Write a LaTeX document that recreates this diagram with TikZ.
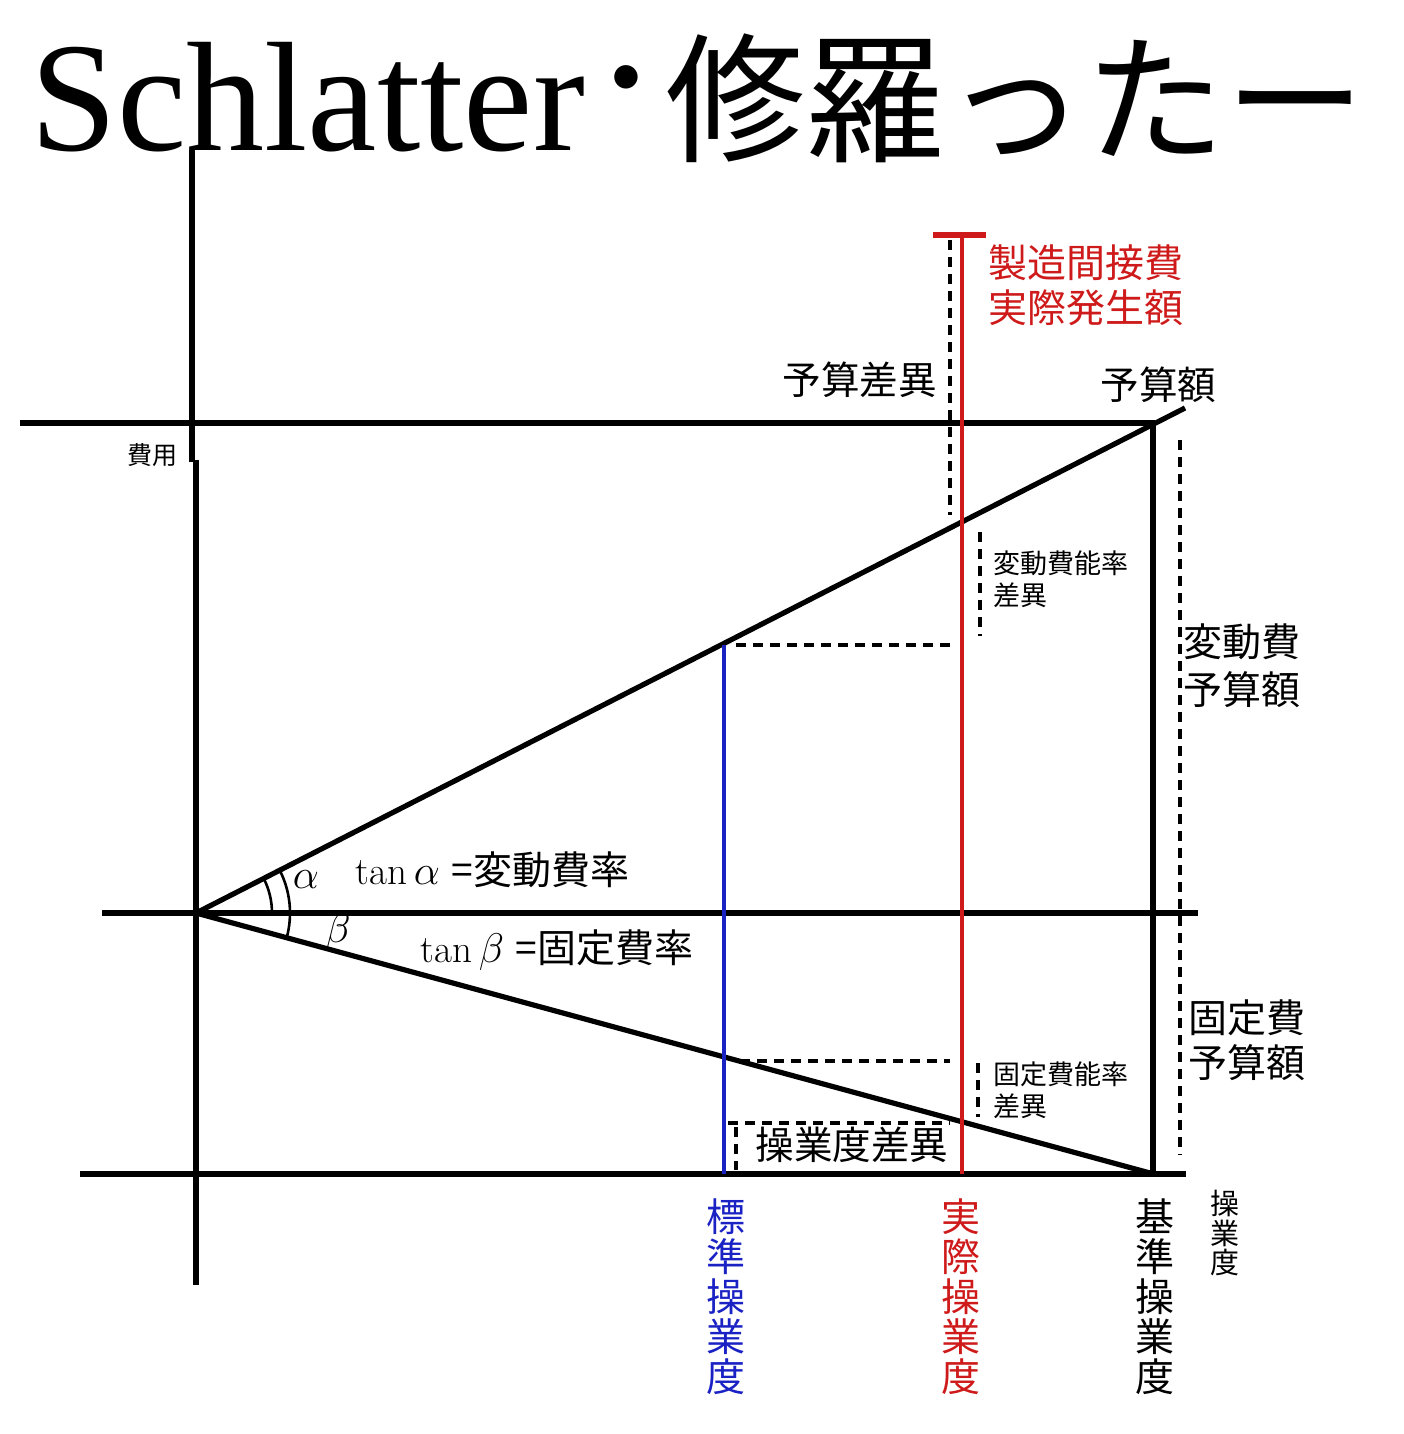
\documentclass[tikz,border=0pt]{standalone}
\usepackage{fontspec}
\newfontfamily\cjk{Noto Sans CJK JP}
\newfontfamily\latinserif{Liberation Serif}
\definecolor{myred}{RGB}{206,26,26}
\definecolor{myblue}{RGB}{26,34,196}
\tikzset{
  axisl/.style={line width=2.6pt, black, line cap=butt},
  redl/.style={line width=2.2pt, myred},
  bluel/.style={line width=2.2pt, myblue},
  dsh/.style={line width=1.8pt, dash pattern=on 5pt off 3.5pt},
  arcl/.style={line width=1.3pt},
  lab/.style={inner sep=0pt, align=left, font=\cjk\fontsize{19.3pt}{23pt}\selectfont},
  smalllab/.style={inner sep=0pt, align=left, font=\cjk\fontsize{13.5pt}{16pt}\selectfont},
  vlab/.style={inner sep=0pt, align=center, anchor=north, font=\cjk\fontsize{19.5pt}{20pt}\selectfont},
}
\begin{document}
\begin{tikzpicture}[x=0.5pt,y=-0.5pt]
\useasboundingbox (0,0) rectangle (1403,1434);
% title
\node[inner sep=0pt, anchor=base west, font=\latinserif\fontsize{78pt}{78pt}\selectfont] (t1) at (30,150) {Schlatter};
\node[inner sep=0pt, font=\cjk\fontsize{70pt}{70pt}\selectfont] (t2) at (626,98) {･};
\node[inner sep=0pt, anchor=west, font=\cjk\fontsize{70pt}{70pt}\selectfont] (t3) at (665,98) {修羅ったー};
% coordinates
\coordinate (O) at (196,913);
\coordinate (VA) at (192,150);
\coordinate (VB) at (192,462);
\coordinate (VC) at (196,460);
\coordinate (VD) at (196,1285);
\coordinate (TL) at (20,423);
\coordinate (TR) at (1155,423);
\coordinate (ML) at (102,913);
\coordinate (MR) at (1198,913);
\coordinate (BL) at (80,1174);
\coordinate (BR) at (1186,1174);
\coordinate (UE) at (1185,408);
\coordinate (LE) at (1150,1173);
\coordinate (RT) at (1153,423);
\coordinate (RB) at (1153,1174);
\coordinate (BT) at (724,645);
\coordinate (BB) at (724,1174);
\coordinate (RdT) at (962,235);
\coordinate (RdB) at (962,1174);
\coordinate (CapL) at (933,235);
\coordinate (CapR) at (986,235);
% axes and lines
\draw[axisl] (VA) -- (VB);
\draw[axisl] (VC) -- (VD);
\draw[axisl] (TL) -- (TR);
\draw[axisl] (ML) -- (MR);
\draw[axisl] (BL) -- (BR);
\draw[axisl] (O) -- (UE);
\draw[axisl] (O) -- (LE);
\draw[axisl] (RT) -- (RB);
% dashed
\coordinate (d1a) at (950,240); \coordinate (d1b) at (950,515);
\coordinate (d2a) at (980,532); \coordinate (d2b) at (980,636);
\coordinate (d3a) at (736,645); \coordinate (d3b) at (950,645);
\coordinate (d4a) at (740,1061); \coordinate (d4b) at (950,1061);
\coordinate (d5a) at (978,1063); \coordinate (d5b) at (978,1117);
\coordinate (d6a) at (728,1123); \coordinate (d6b) at (950,1123);
\coordinate (d7a) at (736,1127); \coordinate (d7b) at (736,1170);
\coordinate (d8a) at (1180,440); \coordinate (d8b) at (1180,1155);
\foreach \a/\b in {d1a/d1b,d2a/d2b,d3a/d3b,d4a/d4b,d5a/d5b,d6a/d6b,d7a/d7b,d8a/d8b}
  \draw[dsh] (\a) -- (\b);
% coloured lines
\draw[bluel] (BT) -- (BB);
\draw[redl] (RdT) -- (RdB);
\draw[redl, line width=2.6pt] (CapL) -- (CapR);
% angle arcs
\draw[arcl] (O) ++(27:38pt) arc[start angle=27, end angle=0, radius=38pt];
\draw[arcl] (O) ++(27:47pt) arc[start angle=27, end angle=-15.2, radius=47pt];
% labels
\node[lab, anchor=west, text=myred, font=\cjk\fontsize{19.5pt}{22.5pt}\selectfont] (seizo) at (988,285) {製造間接費\\実際発生額};
\node[lab, anchor=west] (yosansai) at (782,380) {予算差異};
\node[lab, anchor=west] (yosangaku) at (1100,385) {予算額};
\node[inner sep=0pt, anchor=west, font=\cjk\fontsize{12.5pt}{14pt}\selectfont] (hiyo) at (127,455) {費用};
\node[smalllab, anchor=west] (hennou) at (993,579) {変動費能率\\差異};
\node[lab, anchor=west, font=\cjk\fontsize{19.5pt}{24pt}\selectfont] (henyo) at (1183,666) {変動費\\予算額};
\node[lab, anchor=west, font=\fontsize{19.5pt}{22pt}\selectfont] (tana) at (355,870) {$\tan\alpha$ {\cjk =変動費率}};
\node[inner sep=0pt, font=\fontsize{19.5pt}{22pt}\selectfont] (alph) at (306,880) {$\alpha$};
\node[inner sep=0pt, font=\fontsize{19.5pt}{22pt}\selectfont] (bet) at (338,932) {$\beta$};
\node[lab, anchor=west, font=\fontsize{19.5pt}{22pt}\selectfont] (tanb) at (420,950) {$\tan\beta$ {\cjk =固定費率}};
\node[lab, anchor=west, font=\cjk\fontsize{19.5pt}{22.5pt}\selectfont] (koyo) at (1188,1040) {固定費\\予算額};
\node[smalllab, anchor=west] (konou) at (993,1090) {固定費能率\\差異};
\node[lab, anchor=west] (sogyo) at (755,1145) {操業度差異};
\node[vlab, text=myblue] (hyojun) at (726,1198) {標\\準\\操\\業\\度};
\node[vlab, text=myred] (jissai) at (961,1198) {実\\際\\操\\業\\度};
\node[vlab] (kijun) at (1155,1198) {基\\準\\操\\業\\度};
\node[vlab, font=\cjk\fontsize{14.5pt}{14.7pt}\selectfont] (sogyodo) at (1225,1190) {操\\業\\度};
\end{tikzpicture}
\end{document}
